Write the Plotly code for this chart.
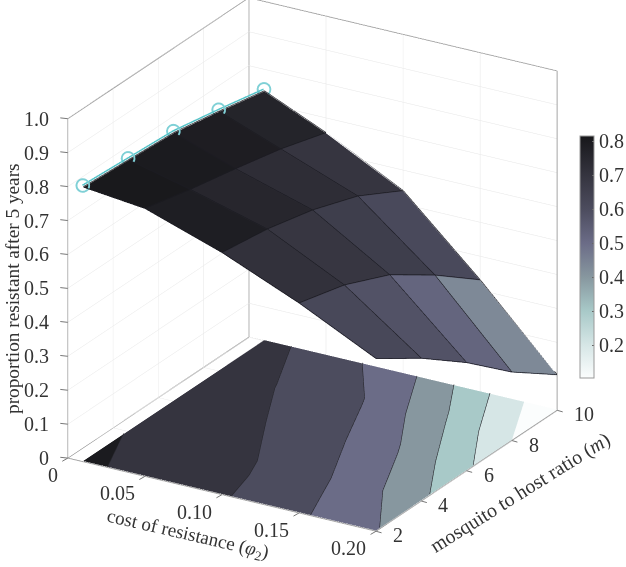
import numpy as np
import plotly.graph_objects as go

# ---- data ----
phi = [0.01, 0.05, 0.10, 0.15, 0.20]
mratio = [2, 4, 6, 8, 10]
# rows: phi, columns: m
prop_phi_001 = [0.808, 0.799, 0.790, 0.764, 0.735]
prop_phi_005 = [0.788, 0.755, 0.727, 0.696, 0.655]
prop_phi_010 = [0.712, 0.692, 0.659, 0.611, 0.538]
prop_phi_015 = [0.617, 0.581, 0.522, 0.432, 0.329]
prop_phi_020 = [0.507, 0.419, 0.317, 0.200, 0.103]
teal_phi = 0.0095
teal_z = [0.814, 0.805, 0.796, 0.770, 0.741]
levels = [0.2, 0.3, 0.4, 0.5, 0.6, 0.7, 0.8]
x_ticks = [0, 0.05, 0.10, 0.15, 0.20]
x_ticktext = ["0", "0.05", "0.10", "0.15", "0.20"]
y_ticks = [2, 4, 6, 8, 10]
z_ticks = [0, .1, .2, .3, .4, .5, .6, .7, .8, .9, 1.0]
z_ticktext = ["0", "0.1", "0.2", "0.3", "0.4", "0.5", "0.6", "0.7", "0.8", "0.9", "1.0"]
cbar_ticks = [.2, .3, .4, .5, .6, .7, .8]
cmap_vals = [0.103, 0.2, 0.3, 0.4, 0.5, 0.6, 0.7, 0.815]
cmap_cols = ["#fbfdfd", "#d6e6e6", "#a8c9c8", "#87979f", "#6b6c87", "#4c4c5e", "#35343f", "#17171a"]

Z = np.array([prop_phi_001, prop_phi_005, prop_phi_010, prop_phi_015, prop_phi_020])
X = np.array(phi); Y = np.array(mratio, float)
cmin, cmax = cmap_vals[0], cmap_vals[-1]
rgb = np.array([[int(c[i:i+2], 16) for i in (1, 3, 5)] for c in cmap_cols], float)

def cm(v):
    return "rgb(%d,%d,%d)" % tuple(round(np.interp(v, cmap_vals, rgb[:, k])) for k in range(3))

colorscale = [[(v - cmin) / (cmax - cmin), c] for v, c in zip(cmap_vals, cmap_cols)]

LIGHT = dict(ambient=1, diffuse=0, specular=0, roughness=1, fresnel=0)
fig = go.Figure()

# floor: filled contour bands
def clip(poly, lev, keep_above):
    out = []
    n = len(poly)
    for i in range(n):
        a, b = poly[i], poly[(i + 1) % n]
        ina = (a[2] >= lev) if keep_above else (a[2] <= lev)
        inb = (b[2] >= lev) if keep_above else (b[2] <= lev)
        if ina:
            out.append(a)
        if ina != inb:
            t = (lev - a[2]) / (b[2] - a[2])
            out.append(tuple(a[k] + t * (b[k] - a[k]) for k in range(3)))
    return out

bands = [(-1, levels[0], cmin)] + [(lo, hi, lo) for lo, hi in zip(levels, levels[1:] + [2])]
fx, fy, fi, fj, fk, fc = [], [], [], [], [], []
for lo, hi, cv in bands:
    for i in range(len(X) - 1):
        for j in range(len(Y) - 1):
            q = [(X[i], Y[j], Z[i, j]), (X[i + 1], Y[j], Z[i + 1, j]),
                 (X[i + 1], Y[j + 1], Z[i + 1, j + 1]), (X[i], Y[j + 1], Z[i, j + 1])]
            p = clip(q, lo, True)
            if p:
                p = clip(p, hi, False)
            if len(p) < 3:
                continue
            base = len(fx)
            for v in p:
                fx.append(v[0]); fy.append(v[1])
            for t in range(1, len(p) - 1):
                fi.append(base); fj.append(base + t); fk.append(base + t + 1); fc.append(cm(cv))
fig.add_trace(go.Mesh3d(x=fx, y=fy, z=[0.002] * len(fx), i=fi, j=fj, k=fk, facecolor=fc,
                        flatshading=True, lighting=LIGHT, hoverinfo="skip", showscale=False))

# floor: contour lines
lx, ly = [], []
for lev in levels:
    for i in range(len(X) - 1):
        for j in range(len(Y) - 1):
            q = [(X[i], Y[j], Z[i, j]), (X[i + 1], Y[j], Z[i + 1, j]),
                 (X[i + 1], Y[j + 1], Z[i + 1, j + 1]), (X[i], Y[j + 1], Z[i, j + 1])]
            pts = []
            for e in range(4):
                a, b = q[e], q[(e + 1) % 4]
                if (a[2] - lev) * (b[2] - lev) < 0:
                    t = (lev - a[2]) / (b[2] - a[2])
                    pts.append((a[0] + t * (b[0] - a[0]), a[1] + t * (b[1] - a[1])))
            if len(pts) >= 2:
                lx += [pts[0][0], pts[1][0], None]
                ly += [pts[0][1], pts[1][1], None]
fig.add_trace(go.Scatter3d(x=lx, y=ly, z=[None if v is None else 0.004 for v in lx], mode="lines",
                           line=dict(color="#26262c", width=1.2), hoverinfo="skip", showlegend=False))

# surface: flat shaded cells, coloured by the low-index corner
gx, gy = np.meshgrid(X, Y, indexing="ij")
n_m = len(Y)
si, sj, sk, sc = [], [], [], []
for i in range(len(X) - 1):
    for j in range(n_m - 1):
        a, b, c, d = i * n_m + j, (i + 1) * n_m + j, (i + 1) * n_m + j + 1, i * n_m + j + 1
        si += [a, a]; sj += [b, c]; sk += [c, d]
        sc += [cm(Z[i, j])] * 2
fig.add_trace(go.Mesh3d(x=gx.ravel(), y=gy.ravel(), z=Z.ravel(), i=si, j=sj, k=sk, facecolor=sc,
                        flatshading=True, lighting=LIGHT, hoverinfo="skip", showscale=False))

# surface edges
ex, ey, ez = [], [], []
for i in range(len(X)):
    ex += list(X[i] * np.ones(n_m)) + [None]; ey += list(Y) + [None]; ez += list(Z[i] + 0.002) + [None]
for j in range(n_m):
    ex += list(X) + [None]; ey += list(Y[j] * np.ones(len(X))) + [None]; ez += list(Z[:, j] + 0.002) + [None]
fig.add_trace(go.Scatter3d(x=ex, y=ey, z=ez, mode="lines", line=dict(color="#1b1b22", width=1.3),
                           hoverinfo="skip", showlegend=False))

# teal line and circles along the lowest cost
fig.add_trace(go.Scatter3d(x=[teal_phi] * 5, y=mratio, z=teal_z, mode="lines+markers",
                           line=dict(color="#56c3c8", width=3),
                           marker=dict(symbol="circle-open", size=8, color="#7fd0d6", line=dict(width=1.2, color="#7fd0d6")),
                           hoverinfo="skip", showlegend=False))

# box edges
xr, yr, zr = (0, 0.2), (2, 10), (0, 1)
edges = [((xr[0], yr[0], zr[0]), (xr[1], yr[0], zr[0])), ((xr[1], yr[0], zr[0]), (xr[1], yr[1], zr[0])),
         ((xr[0], yr[0], zr[0]), (xr[0], yr[1], zr[0])), ((xr[0], yr[1], zr[0]), (xr[1], yr[1], zr[0])),
         ((xr[0], yr[0], zr[0]), (xr[0], yr[0], zr[1])), ((xr[0], yr[1], zr[0]), (xr[0], yr[1], zr[1])),
         ((xr[1], yr[1], zr[0]), (xr[1], yr[1], zr[1])), ((xr[0], yr[0], zr[1]), (xr[0], yr[1], zr[1])),
         ((xr[0], yr[1], zr[1]), (xr[1], yr[1], zr[1]))]
bx, by, bz = [], [], []
for a, b in edges:
    bx += [a[0], b[0], None]; by += [a[1], b[1], None]; bz += [a[2], b[2], None]
fig.add_trace(go.Scatter3d(x=bx, y=by, z=bz, mode="lines", line=dict(color="#7a7a7a", width=1.6),
                           hoverinfo="skip", showlegend=False))

# colour bar
fig.add_trace(go.Scatter3d(x=[phi[0]], y=[mratio[0]], z=[Z[0, 0]], mode="markers", hoverinfo="skip", showlegend=False,
                           marker=dict(size=0.01, opacity=0, color=[Z[0, 0]], cmin=cmin, cmax=cmax, colorscale=colorscale,
                                       showscale=True,
                                       colorbar=dict(thickness=14, thicknessmode="pixels", len=242, lenmode="pixels",
                                                     x=580 / 626, xanchor="left", xpad=0, y=1 - 136 / 567, yanchor="top", ypad=0,
                                                     tickvals=cbar_ticks, tickformat=".1f", ticks="inside", ticklen=2,
                                                     tickcolor="#666", outlinecolor="#999", outlinewidth=1,
                                                     tickfont=dict(family="Liberation Serif", size=20, color="#333")))))

def ax(vals, rng):
    return dict(range=list(rng), tickmode="array", tickvals=vals, title=dict(text=""), showticklabels=False,
                showbackground=False, showgrid=True, gridcolor="#e6e6e6", gridwidth=1, showline=False,
                zeroline=False, ticks="", showspikes=False)

phi_a, el = np.radians(59.2), np.radians(23.45)
R = 2.0
center = dict(x=0, y=0, z=-0.073)
eye = dict(x=center["x"] + R * np.cos(phi_a) * np.cos(el), y=center["y"] - R * np.sin(phi_a) * np.cos(el),
           z=center["z"] + R * np.sin(el))

TICKFONT = dict(family="Liberation Serif", size=20, color="#333")
scene_ann = []
def tick(x, y, z, dx, dy):
    scene_ann.append(dict(x=x, y=y, z=z, text="", showarrow=True, arrowhead=0, arrowwidth=1, arrowcolor="#777",
                          ax=dx, ay=dy, standoff=0, startstandoff=0))
for v, t in zip(z_ticks, z_ticktext):
    tick(xr[0], yr[0], v, -9, -1)
    scene_ann.append(dict(x=xr[0], y=yr[0], z=v, text=t, showarrow=False, xanchor="right", yanchor="middle",
                          xshift=-17, yshift=0, font=TICKFONT))
for v, t in zip(x_ticks, x_ticktext):
    tick(v, yr[0], zr[0], -7, 4)
    scene_ann.append(dict(x=v, y=yr[0], z=zr[0], text=t, showarrow=False, xanchor="right", yanchor="middle",
                          xshift=-8, yshift=-17, font=TICKFONT))
for v in y_ticks:
    tick(xr[1], v, zr[0], 7, 2)
    scene_ann.append(dict(x=xr[1], y=v, z=zr[0], text=str(v), showarrow=False, xanchor="left", yanchor="middle",
                          xshift=15, yshift=-4, font=TICKFONT))

def ann(x, y, text, angle, size=19):
    return dict(x=x / 626, y=1 - y / 567, xref="paper", yref="paper", text=text, textangle=angle, showarrow=False,
                font=dict(family="Liberation Serif", size=size, color="#333"), xanchor="center", yanchor="middle")

fig.update_layout(
    width=626, height=567, autosize=False, margin=dict(l=0, r=0, t=0, b=0), paper_bgcolor="white", showlegend=False,
    scene=dict(domain=dict(x=[0, 1], y=[0, 1]),
               xaxis=ax(x_ticks, xr), yaxis=ax(y_ticks, yr), zaxis=ax(z_ticks, zr),
               aspectmode="manual", aspectratio=dict(x=1.266, y=1.248, z=1.305),
               annotations=scene_ann,
               camera=dict(eye=eye, up=dict(x=0, y=0, z=1), center=center,
                           projection=dict(type="orthographic"))),
    annotations=[ann(188, 535, "cost of resistance (<i>φ</i><sub>2</sub>)", 13, 19),
                 ann(521, 492, "mosquito to host ratio (<i>m</i>)", -32, 20),
                 ann(12, 288, "proportion resistant after 5 years", -90, 19.3)])
fig.write_html("out.html", post_script="document.body.style.margin='0';", config={"displayModeBar": False})
